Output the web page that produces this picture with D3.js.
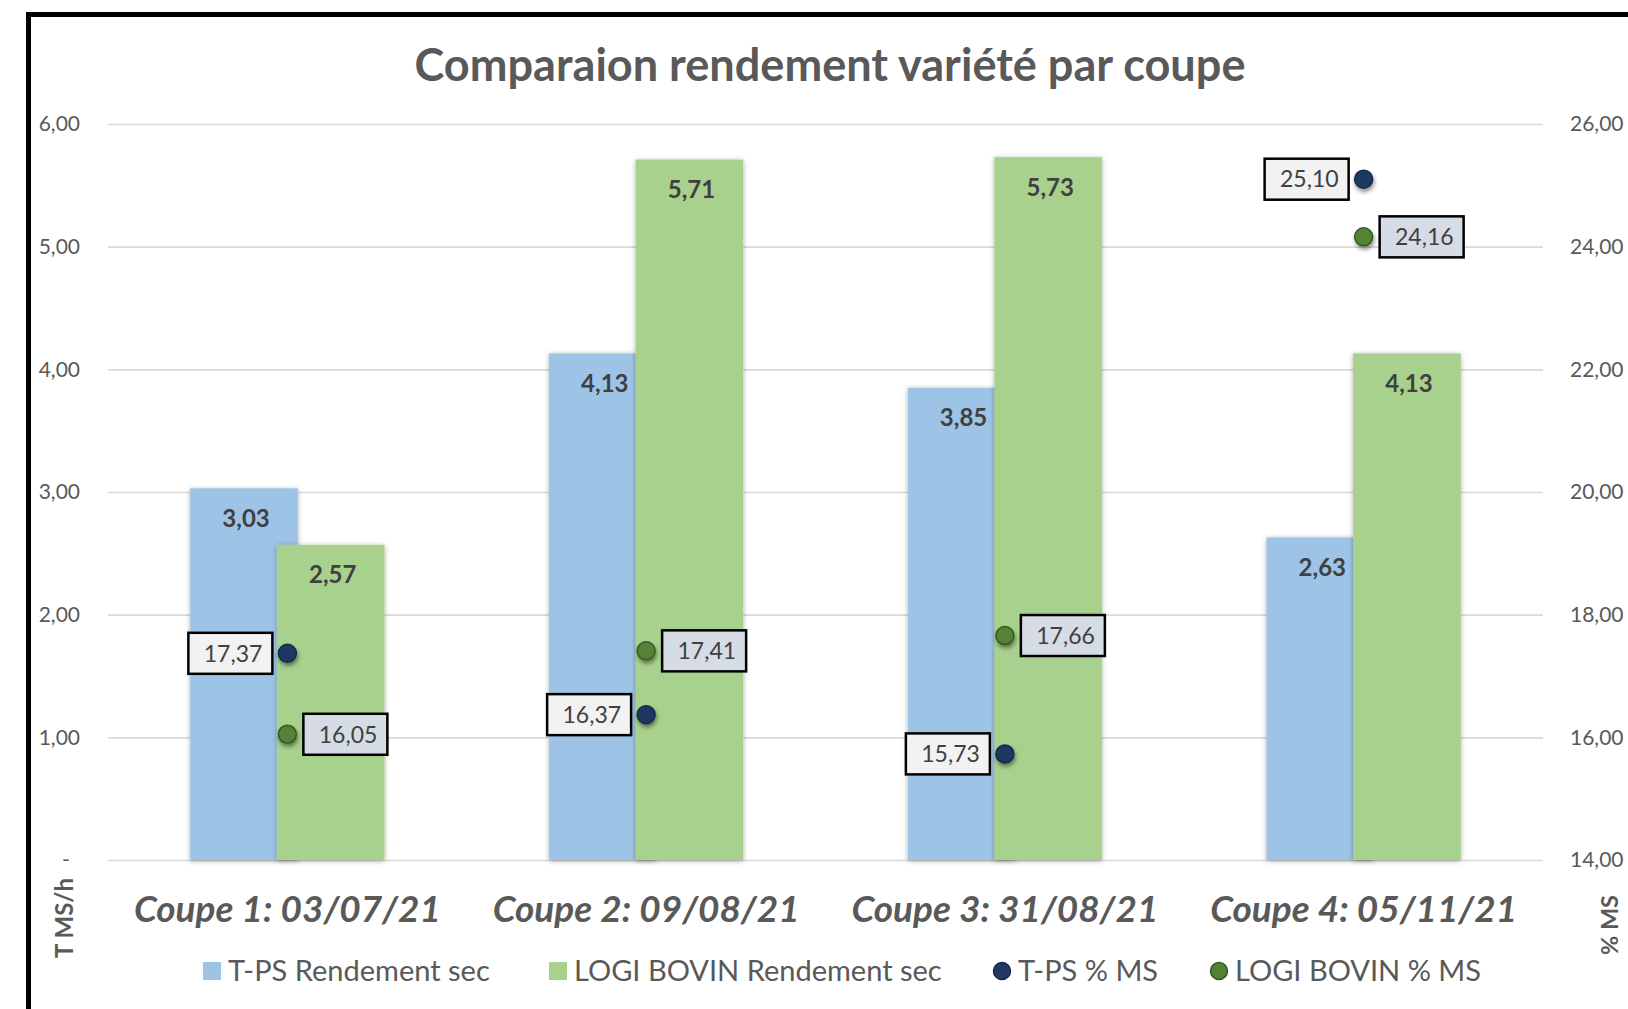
<!DOCTYPE html>
<html lang="fr">
<head>
<meta charset="UTF-8">
<title>Comparaion rendement variété par coupe</title>
<script src="https://d3js.org/d3.v7.min.js"></script>
<style>
  body { margin: 0; background: #fff; }
  svg { font-family: Lato, "Open Sans", sans-serif; display: block; }
</style>
</head>
<body>
<svg></svg>
<script>
  const categories = ["Coupe 1: 03/07/21", "Coupe 2: 09/08/21", "Coupe 3: 31/08/21", "Coupe 4: 05/11/21"];
  const tpsRendement = [3.03, 4.13, 3.85, 2.63];
  const logiRendement = [2.57, 5.71, 5.73, 4.13];
  const tpsMS = [17.37, 16.37, 15.73, 25.10];
  const logiMS = [16.05, 17.41, 17.66, 24.16];
  const leftTicks = [0, 1, 2, 3, 4, 5, 6];
  const rightTicks = [14, 16, 18, 20, 22, 24, 26];
  const legendLabels = ["T-PS Rendement sec", "LOGI BOVIN Rendement sec", "T-PS % MS", "LOGI BOVIN % MS"];

  const colors = {
    tpsBar: "#9dc3e6", logiBar: "#a9d18e",
    tpsDot: "#1f3864", tpsDotStroke: "#172a4b",
    logiDot: "#548235", logiDotStroke: "#375623"
  };

  const W = 1628, H = 1009;
  const margin = { top: 124, right: 85, bottom: 149, left: 108 };
  const width = W - margin.left - margin.right;
  const height = H - margin.top - margin.bottom;

  const fr = d3.formatLocale({ decimal: ",", thousands: " ", grouping: [3], currency: ["", " €"] });
  const fmt = fr.format(".2f");

  // ajuste la taille de police pour obtenir une largeur donnée
  function fit(sel, target) {
    const w = sel.node().getComputedTextLength();
    const fs = parseFloat(sel.style("font-size"));
    const nfs = fs * target / w;
    sel.style("font-size", nfs + "px");
    return nfs;
  }

  const svg = d3.select("svg").attr("width", W).attr("height", H);

  const defs = svg.append("defs");
  defs.append("filter").attr("id", "barShadow")
    .attr("x", "-10%").attr("y", "-10%").attr("width", "120%").attr("height", "120%")
    .append("feDropShadow")
    .attr("dx", 0).attr("dy", 1).attr("stdDeviation", 2.4)
    .attr("flood-color", "#000").attr("flood-opacity", 0.32);
  defs.append("filter").attr("id", "dotShadow")
    .attr("x", "-60%").attr("y", "-60%").attr("width", "220%").attr("height", "220%")
    .append("feDropShadow")
    .attr("dx", 1).attr("dy", 3).attr("stdDeviation", 2)
    .attr("flood-color", "#000").attr("flood-opacity", 0.45);

  svg.append("rect").attr("width", W).attr("height", H).attr("fill", "#fff");

  // cadre
  svg.append("rect")
    .attr("x", 28.5).attr("y", 14.5)
    .attr("width", W + 100).attr("height", H + 100)
    .attr("fill", "none").attr("stroke", "#000").attr("stroke-width", 5);

  const g = svg.append("g").attr("transform", `translate(${margin.left},${margin.top})`);

  const x = d3.scaleBand().domain(categories).range([0, width]).padding(0);
  const y = d3.scaleLinear().domain([0, 6]).range([height, 0]);
  const y2 = d3.scaleLinear().domain([14, 26]).range([height, 0]);

  // axe gauche + grille
  const yAxis = g.append("g")
    .call(d3.axisLeft(y).tickValues(leftTicks).tickFormat(d => d === 0 ? "-" : fmt(d))
      .tickSizeInner(-width).tickSizeOuter(0).tickPadding(28));
  yAxis.select(".domain").remove();
  yAxis.selectAll("line").attr("stroke", "#d9d9d9").attr("stroke-width", 1.6);
  yAxis.selectAll("text").attr("fill", "#595959").style("font-size", "21px").attr("font-family", "Lato, sans-serif");
  yAxis.selectAll("text").filter(d => d === 0).attr("x", -42).attr("text-anchor", "middle");

  // axe droit
  const y2Axis = g.append("g").attr("transform", `translate(${width},0)`)
    .call(d3.axisRight(y2).tickValues(rightTicks).tickFormat(fmt).tickSize(0).tickPadding(27));
  y2Axis.select(".domain").remove();
  y2Axis.selectAll("text").attr("fill", "#595959").style("font-size", "21px").attr("font-family", "Lato, sans-serif");

  // barres
  const barW = x.bandwidth() * 0.30;
  const barStep = barW * 0.805;
  const groupW = barW + barStep;
  const cx = d => x(d) + x.bandwidth() / 2;

  const bars = [
    { key: "tps", values: tpsRendement, color: colors.tpsBar, off: -groupW / 2 },
    { key: "logi", values: logiRendement, color: colors.logiBar, off: -groupW / 2 + barStep }
  ];

  bars.forEach(s => {
    g.append("g").selectAll("rect")
      .data(categories)
      .join("rect")
      .attr("x", d => cx(d) + s.off)
      .attr("y", (d, i) => y(s.values[i]))
      .attr("width", barW)
      .attr("height", (d, i) => height - y(s.values[i]))
      .attr("fill", s.color)
      .attr("filter", "url(#barShadow)");
  });

  bars.forEach(s => {
    g.append("g").selectAll("text")
      .data(categories)
      .join("text")
      .attr("x", d => cx(d) + s.off + barW / 2 + 2)
      .attr("y", (d, i) => y(s.values[i]) + 30)
      .attr("dy", "0.36em")
      .attr("text-anchor", "middle")
      .attr("fill", "#404040")
      .attr("font-weight", "bold")
      .style("font-size", "24px")
      .text((d, i) => fmt(s.values[i]));
  });

  // points % MS
  const dots = [
    { key: "tps", values: tpsMS, fill: colors.tpsDot, stroke: colors.tpsDotStroke, box: "#f2f2f2", side: -1 },
    { key: "logi", values: logiMS, fill: colors.logiDot, stroke: colors.logiDotStroke, box: "#d6dce5", side: 1 }
  ];
  const boxW = 84, boxH = 41, boxGap = 15;

  dots.forEach(s => {
    g.append("g").selectAll("circle")
      .data(categories)
      .join("circle")
      .attr("cx", d => cx(d))
      .attr("cy", (d, i) => y2(s.values[i]))
      .attr("r", 9)
      .attr("fill", s.fill)
      .attr("stroke", s.stroke)
      .attr("stroke-width", 1.5)
      .attr("filter", "url(#dotShadow)");
  });

  dots.forEach(s => {
    const lab = g.append("g").selectAll("g")
      .data(categories)
      .join("g")
      .attr("transform", (d, i) => {
        const bx = s.side < 0 ? cx(d) - boxGap - boxW : cx(d) + boxGap + 1;
        return `translate(${bx},${y2(s.values[i]) - boxH / 2})`;
      });
    lab.append("rect")
      .attr("width", boxW).attr("height", boxH)
      .attr("fill", s.box).attr("stroke", "#000").attr("stroke-width", 2.5);
    lab.append("text")
      .attr("x", boxW - 10).attr("y", boxH / 2).attr("dy", "0.36em")
      .attr("text-anchor", "end")
      .attr("fill", "#404040")
      .style("font-size", "23px")
      .text((d, i) => fmt(s.values[i]));
  });

  // titre
  const title = svg.append("text")
    .attr("x", 830).attr("y", 81)
    .attr("text-anchor", "middle")
    .attr("fill", "#595959")
    .attr("font-weight", "bold")
    .style("font-size", "44px")
    .text("Comparaion rendement variété par coupe");
  fit(title, 831);

  // étiquettes de catégories
  const catLabels = g.append("g").selectAll("text")
    .data(categories)
    .join("text")
    .attr("x", d => cx(d))
    .attr("y", 922 - margin.top)
    .attr("text-anchor", "middle")
    .attr("fill", "#595959")
    .attr("font-weight", "bold")
    .attr("font-style", "italic")
    .style("font-size", "36px")
    .text(d => d);
  const catSize = fit(d3.select(catLabels.nodes()[0]), 307);
  catLabels.style("font-size", catSize + "px");

  // titres des axes
  const yTitle = svg.append("text")
    .attr("transform", "translate(73,918) rotate(-90)")
    .attr("text-anchor", "middle")
    .attr("fill", "#595959")
    .attr("font-weight", "bold")
    .style("font-size", "22px")
    .text("T MS/h");
  fit(yTitle, 80);
  const y2Title = svg.append("text")
    .attr("transform", "translate(1618,925) rotate(-90)")
    .attr("text-anchor", "middle")
    .attr("fill", "#595959")
    .attr("font-weight", "bold")
    .style("font-size", "22px")
    .text("% MS");
  fit(y2Title, 60);

  // légende
  const legend = svg.append("g");
  const legendItems = [
    { label: legendLabels[0], type: "rect", color: colors.tpsBar },
    { label: legendLabels[1], type: "rect", color: colors.logiBar },
    { label: legendLabels[2], type: "circle", color: colors.tpsDot, stroke: colors.tpsDotStroke },
    { label: legendLabels[3], type: "circle", color: colors.logiDot, stroke: colors.logiDotStroke }
  ];
  const probe = legend.append("text").style("font-size", "28px").text(legendLabels[0]);
  const legendSize = fit(probe, 262);
  probe.remove();

  const legendX = d3.scalePoint().domain(legendLabels).range([203, 1210]);
  const legendStart = [203, 549, 993, 1210];
  const ly = 971;
  legendItems.forEach((it, i) => {
    const ig = legend.append("g").attr("transform", `translate(${legendStart[i]},${ly})`);
    if (it.type === "rect") {
      ig.append("rect").attr("x", 0).attr("y", -9).attr("width", 18).attr("height", 18).attr("fill", it.color);
    } else {
      ig.append("circle").attr("cx", 9).attr("cy", 0).attr("r", 8.5)
        .attr("fill", it.color).attr("stroke", it.stroke).attr("stroke-width", 1.5);
    }
    const t = ig.append("text")
      .attr("x", 25).attr("dy", "0.35em")
      .attr("fill", "#595959")
      .style("font-size", legendSize + "px")
      .text(it.label);
  });
</script>
</body>
</html>
